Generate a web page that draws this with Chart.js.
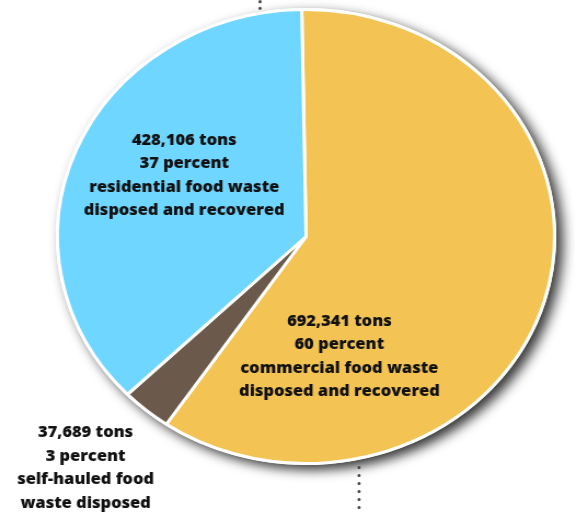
<!DOCTYPE html>
<html>
<head>
<meta charset="utf-8">
<script src="https://cdn.jsdelivr.net/npm/chart.js@4.4.1/dist/chart.umd.min.js"></script>
<style>
  html, body { margin: 0; padding: 0; background: #fff; overflow: hidden; }
  /* the whole picture is a little wider than tall */
  #wrap { width: 525px; height: 514px; transform: scaleX(1.095); transform-origin: 0 0; }
</style>
</head>
<body>
<div id="wrap"><canvas id="chart" width="525" height="514"></canvas></div>
<script>
const categories = [
  'commercial food waste disposed and recovered',
  'self-hauled food waste disposed',
  'residential food waste disposed and recovered'
];
const tons = [692341, 37689, 428106];
const percents = [60, 3, 37];
const labelLines = [
  ['commercial food waste', 'disposed and recovered'],
  ['self-hauled food', 'waste disposed'],
  ['residential food waste', 'disposed and recovered']
];
const colors = ['#F3C453', '#6B5A4C', '#6ED6FF'];

// where each label block sits, in pie radii from the centre (x, first baseline)
const labelAnchors = [[0.134, 0.394], [-0.887, 0.885], [-0.49, -0.403]];
const STRETCH = 1.095;
const LINE_H = 23.4;

const pieDecor = {
  id: 'pieDecor',
  beforeDatasetsDraw(chart) {
    // white disc with a drop shadow behind the slices
    const arc = chart.getDatasetMeta(0).data[0];
    const ctx = chart.ctx;
    ctx.save();
    ctx.shadowColor = 'rgba(0,0,0,0.8)';
    ctx.shadowBlur = 12;
    ctx.shadowOffsetX = 6;
    ctx.shadowOffsetY = 5;
    ctx.fillStyle = '#fff';
    ctx.beginPath();
    ctx.arc(arc.x, arc.y, arc.outerRadius + 1.5, 0, Math.PI * 2);
    ctx.fill();
    ctx.restore();
  },
  afterDraw(chart) {
    const arc = chart.getDatasetMeta(0).data[0];
    const R = arc.outerRadius;
    const ctx = chart.ctx;

    // dotted leader lines (unstretched so the dots stay round)
    ctx.save();
    ctx.scale(1 / STRETCH, 1);
    ctx.strokeStyle = '#444';
    ctx.lineWidth = 3.2;
    ctx.lineCap = 'round';
    ctx.setLineDash([0, 6.6]);
    ctx.beginPath();
    ctx.moveTo(arc.x * STRETCH - 46, 8.3);
    ctx.lineTo(arc.x * STRETCH - 46, -12);
    ctx.stroke();
    ctx.setLineDash([0, 8]);
    ctx.beginPath();
    ctx.moveTo(arc.x * STRETCH + 53, arc.y + R + 4);
    ctx.lineTo(arc.x * STRETCH + 53, chart.height + 10);
    ctx.stroke();
    ctx.restore();

    ctx.save();
    ctx.font = '800 15px "Open Sans"';
    ctx.textAlign = 'center';
    ctx.textBaseline = 'alphabetic';
    ctx.fillStyle = '#111';
    tons.forEach((t, i) => {
      const lines = [t.toLocaleString('en-US') + ' tons', percents[i] + ' percent'].concat(labelLines[i]);
      const x = arc.x + labelAnchors[i][0] * R;
      const y = arc.y + labelAnchors[i][1] * R;
      lines.forEach((l, k) => ctx.fillText(l, x, y + k * LINE_H));
    });
    ctx.restore();
  }
};

new Chart(document.getElementById('chart'), {
  type: 'pie',
  data: {
    labels: categories,
    datasets: [{
      data: tons,
      backgroundColor: colors,
      borderColor: '#fff',
      borderWidth: 3,
      hoverOffset: 0
    }]
  },
  options: {
    responsive: false,
    animation: false,
    radius: 227,
    rotation: -1,
    layout: { padding: { left: 34, right: 0, top: 0, bottom: 41 } },
    plugins: {
      legend: { display: false },
      tooltip: { enabled: false }
    }
  },
  plugins: [pieDecor]
});
</script>
</body>
</html>
